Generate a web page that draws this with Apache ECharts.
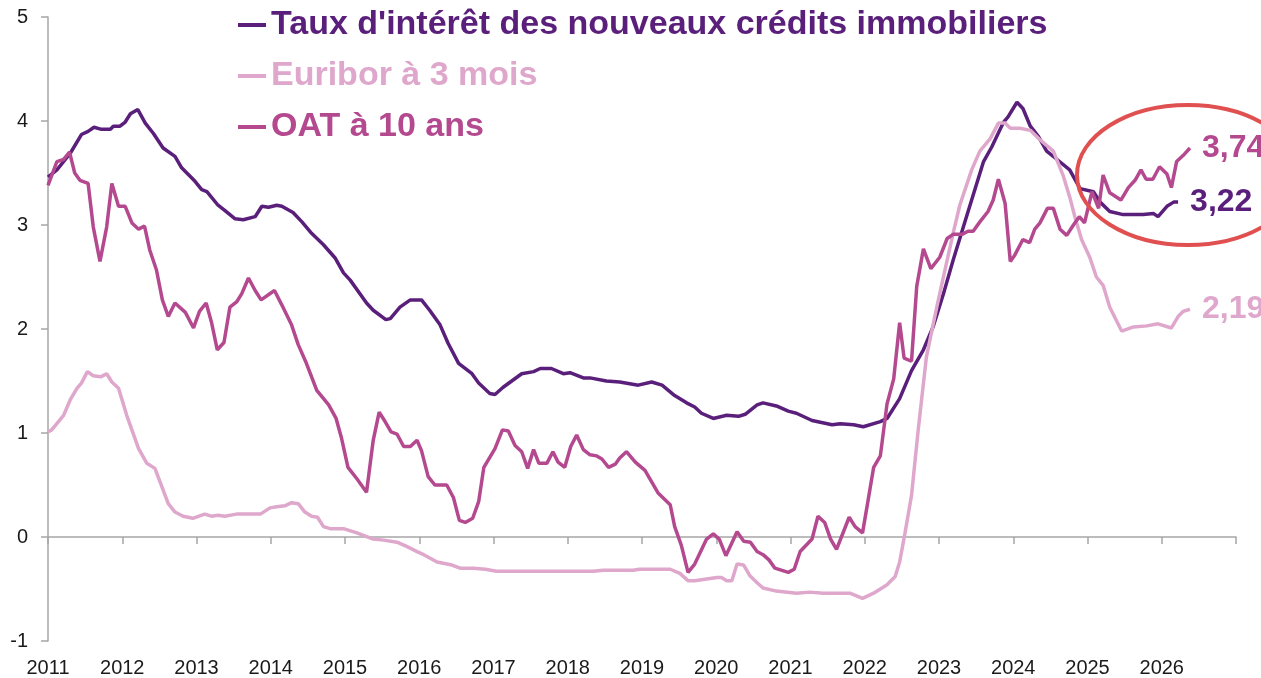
<!DOCTYPE html>
<html>
<head>
<meta charset="utf-8">
<title>Taux immobiliers, Euribor et OAT</title>
<script src="https://cdn.jsdelivr.net/npm/echarts/dist/echarts.min.js"></script>
<style>
  html, body { margin: 0; padding: 0; background: #fff; }
  #chart { width: 1261px; height: 678px; }
</style>
</head>
<body>
<div id="chart"></div>
<script>
// noms des séries
const seriesNames = ["Taux d'intérêt des nouveaux crédits immobiliers", 'Euribor à 3 mois', 'OAT à 10 ans'];
const seriesColors = ['#5a1f7b', '#dea7cb', '#b4498f'];

// années de l'axe
const yearTicks = [2011, 2012, 2013, 2014, 2015, 2016, 2017, 2018, 2019, 2020, 2021, 2022, 2023, 2024, 2025, 2026];

// [année, taux en %]
const tauxData = [
  [2011.00, 3.46], [2011.12, 3.53], [2011.30, 3.69], [2011.45, 3.87], [2011.54, 3.90], [2011.62, 3.94],
  [2011.72, 3.92], [2011.84, 3.92], [2011.88, 3.95], [2011.97, 3.95], [2012.04, 3.99], [2012.11, 4.07],
  [2012.21, 4.11], [2012.31, 3.98], [2012.42, 3.88], [2012.55, 3.74], [2012.71, 3.66], [2012.80, 3.55],
  [2012.98, 3.42], [2013.07, 3.34], [2013.14, 3.32], [2013.29, 3.19], [2013.38, 3.14], [2013.52, 3.06],
  [2013.63, 3.05], [2013.79, 3.08], [2013.88, 3.18], [2013.97, 3.17], [2014.08, 3.19], [2014.15, 3.18],
  [2014.30, 3.12], [2014.42, 3.03], [2014.55, 2.92], [2014.71, 2.81], [2014.87, 2.68], [2014.98, 2.54],
  [2015.07, 2.47], [2015.29, 2.25], [2015.38, 2.18], [2015.55, 2.09], [2015.61, 2.10], [2015.74, 2.21],
  [2015.88, 2.28], [2016.03, 2.28], [2016.14, 2.18], [2016.28, 2.04], [2016.39, 1.86], [2016.53, 1.67],
  [2016.71, 1.57], [2016.80, 1.48], [2016.95, 1.38], [2017.02, 1.37], [2017.13, 1.44], [2017.38, 1.57],
  [2017.54, 1.59], [2017.63, 1.62], [2017.78, 1.62], [2017.94, 1.57], [2018.03, 1.58], [2018.21, 1.53],
  [2018.30, 1.53], [2018.52, 1.50], [2018.70, 1.49], [2018.95, 1.46], [2019.13, 1.49], [2019.27, 1.46],
  [2019.44, 1.36], [2019.60, 1.29], [2019.71, 1.25], [2019.80, 1.19], [2019.96, 1.14], [2020.14, 1.17],
  [2020.30, 1.16], [2020.39, 1.18], [2020.55, 1.27], [2020.63, 1.29], [2020.81, 1.26], [2020.97, 1.21],
  [2021.08, 1.19], [2021.29, 1.12], [2021.56, 1.08], [2021.67, 1.09], [2021.85, 1.08], [2021.98, 1.06],
  [2022.21, 1.11], [2022.30, 1.14], [2022.47, 1.33], [2022.63, 1.60], [2022.79, 1.80], [2022.92, 2.02],
  [2023.06, 2.34], [2023.19, 2.66], [2023.37, 3.08], [2023.60, 3.61], [2023.71, 3.75], [2023.87, 3.99],
  [2023.93, 4.04], [2024.05, 4.18], [2024.13, 4.12], [2024.23, 3.95], [2024.34, 3.85], [2024.45, 3.71],
  [2024.59, 3.63], [2024.76, 3.53], [2024.90, 3.35], [2025.08, 3.32], [2025.17, 3.22], [2025.30, 3.13],
  [2025.48, 3.10], [2025.62, 3.10], [2025.75, 3.10], [2025.89, 3.11], [2025.95, 3.08], [2026.07, 3.18],
  [2026.16, 3.22], [2026.22, 3.22]
];

const euriborData = [
  [2011.00, 1.01], [2011.05, 1.03], [2011.21, 1.17], [2011.30, 1.32], [2011.39, 1.43], [2011.45, 1.48],
  [2011.53, 1.59], [2011.61, 1.55], [2011.71, 1.54], [2011.79, 1.57], [2011.86, 1.49], [2011.95, 1.43],
  [2012.06, 1.17], [2012.22, 0.85], [2012.33, 0.71], [2012.44, 0.66], [2012.62, 0.32], [2012.71, 0.24],
  [2012.82, 0.20], [2012.95, 0.18], [2013.11, 0.22], [2013.20, 0.20], [2013.29, 0.21], [2013.38, 0.20],
  [2013.54, 0.22], [2013.86, 0.22], [2013.99, 0.28], [2014.08, 0.29], [2014.19, 0.30], [2014.28, 0.33],
  [2014.37, 0.32], [2014.46, 0.24], [2014.55, 0.20], [2014.63, 0.19], [2014.71, 0.10], [2014.80, 0.08],
  [2014.98, 0.08], [2015.16, 0.04], [2015.38, -0.02], [2015.52, -0.03], [2015.70, -0.05], [2015.83, -0.09],
  [2015.97, -0.14], [2016.06, -0.17], [2016.24, -0.24], [2016.44, -0.27], [2016.55, -0.30], [2016.73, -0.30],
  [2016.89, -0.31], [2017.04, -0.33], [2018.34, -0.33], [2018.48, -0.32], [2018.88, -0.32], [2018.97, -0.31],
  [2019.38, -0.31], [2019.51, -0.35], [2019.62, -0.42], [2019.71, -0.42], [2020.01, -0.39], [2020.07, -0.39],
  [2020.14, -0.42], [2020.21, -0.42], [2020.28, -0.26], [2020.37, -0.27], [2020.45, -0.37], [2020.55, -0.44],
  [2020.63, -0.49], [2020.81, -0.52], [2021.08, -0.54], [2021.26, -0.53], [2021.44, -0.54], [2021.80, -0.54],
  [2021.97, -0.59], [2022.12, -0.54], [2022.30, -0.46], [2022.41, -0.38], [2022.47, -0.24], [2022.54, 0.03],
  [2022.63, 0.40], [2022.72, 1.03], [2022.83, 1.73], [2022.97, 2.21], [2023.10, 2.63], [2023.19, 2.92],
  [2023.28, 3.19], [2023.44, 3.53], [2023.55, 3.71], [2023.69, 3.83], [2023.80, 3.98], [2023.89, 3.98],
  [2023.96, 3.93], [2024.09, 3.93], [2024.23, 3.91], [2024.36, 3.82], [2024.54, 3.71], [2024.67, 3.48],
  [2024.76, 3.27], [2024.83, 3.08], [2024.92, 2.86], [2025.03, 2.69], [2025.12, 2.50], [2025.21, 2.42],
  [2025.30, 2.21], [2025.46, 1.98], [2025.62, 2.02], [2025.80, 2.03], [2025.95, 2.05], [2026.13, 2.01],
  [2026.22, 2.12], [2026.29, 2.17], [2026.38, 2.19]
];

const oatData = [
  [2011.00, 3.38], [2011.12, 3.61], [2011.21, 3.63], [2011.29, 3.70], [2011.36, 3.50], [2011.43, 3.43],
  [2011.54, 3.40], [2011.61, 2.98], [2011.70, 2.65], [2011.79, 2.98], [2011.86, 3.40], [2011.95, 3.18],
  [2012.04, 3.18], [2012.13, 3.02], [2012.22, 2.96], [2012.30, 2.99], [2012.37, 2.76], [2012.46, 2.57],
  [2012.54, 2.28], [2012.62, 2.12], [2012.71, 2.25], [2012.85, 2.16], [2012.96, 2.01], [2013.04, 2.17],
  [2013.13, 2.25], [2013.20, 2.07], [2013.28, 1.80], [2013.37, 1.87], [2013.45, 2.21], [2013.54, 2.26],
  [2013.61, 2.34], [2013.70, 2.49], [2013.79, 2.37], [2013.87, 2.28], [2014.05, 2.37], [2014.15, 2.23],
  [2014.28, 2.04], [2014.37, 1.85], [2014.48, 1.67], [2014.62, 1.41], [2014.78, 1.27], [2014.88, 1.14],
  [2014.95, 0.96], [2015.04, 0.67], [2015.16, 0.56], [2015.29, 0.43], [2015.38, 0.93], [2015.46, 1.20],
  [2015.54, 1.11], [2015.62, 1.01], [2015.70, 0.99], [2015.79, 0.87], [2015.88, 0.87], [2015.97, 0.93],
  [2016.03, 0.83], [2016.12, 0.58], [2016.21, 0.50], [2016.37, 0.50], [2016.46, 0.38], [2016.54, 0.16],
  [2016.62, 0.14], [2016.72, 0.18], [2016.80, 0.34], [2016.87, 0.67], [2017.02, 0.85], [2017.12, 1.03],
  [2017.20, 1.02], [2017.29, 0.88], [2017.38, 0.82], [2017.46, 0.66], [2017.54, 0.84], [2017.61, 0.71],
  [2017.72, 0.71], [2017.80, 0.82], [2017.87, 0.72], [2017.96, 0.67], [2018.04, 0.87], [2018.12, 0.98],
  [2018.21, 0.84], [2018.30, 0.79], [2018.39, 0.78], [2018.46, 0.75], [2018.55, 0.67], [2018.64, 0.70],
  [2018.70, 0.76], [2018.79, 0.82], [2018.91, 0.72], [2019.04, 0.64], [2019.22, 0.42], [2019.38, 0.31],
  [2019.44, 0.10], [2019.53, -0.08], [2019.62, -0.34], [2019.71, -0.26], [2019.87, -0.02], [2019.96, 0.03],
  [2020.04, -0.02], [2020.13, -0.18], [2020.28, 0.05], [2020.37, -0.04], [2020.46, -0.05], [2020.55, -0.14],
  [2020.63, -0.17], [2020.71, -0.22], [2020.79, -0.30], [2020.97, -0.34], [2021.05, -0.31], [2021.13, -0.14],
  [2021.29, -0.02], [2021.37, 0.20], [2021.46, 0.14], [2021.54, -0.02], [2021.62, -0.12], [2021.79, 0.19],
  [2021.87, 0.10], [2021.97, 0.04], [2022.03, 0.29], [2022.12, 0.67], [2022.21, 0.78], [2022.30, 1.28],
  [2022.39, 1.52], [2022.47, 2.06], [2022.53, 1.72], [2022.63, 1.69], [2022.70, 2.41], [2022.79, 2.77],
  [2022.89, 2.58], [2023.01, 2.69], [2023.11, 2.87], [2023.19, 2.91], [2023.31, 2.91], [2023.39, 2.94],
  [2023.46, 2.94], [2023.55, 3.03], [2023.66, 3.13], [2023.73, 3.24], [2023.80, 3.44], [2023.89, 3.21],
  [2023.96, 2.65], [2024.02, 2.71], [2024.13, 2.86], [2024.22, 2.83], [2024.29, 2.96], [2024.36, 3.02],
  [2024.46, 3.16], [2024.54, 3.16], [2024.63, 2.96], [2024.72, 2.90], [2024.81, 3.00], [2024.89, 3.08],
  [2024.96, 3.02], [2025.06, 3.32], [2025.15, 3.16], [2025.21, 3.48], [2025.30, 3.31], [2025.45, 3.24],
  [2025.55, 3.36], [2025.64, 3.43], [2025.72, 3.53], [2025.79, 3.44], [2025.88, 3.44], [2025.97, 3.56],
  [2026.07, 3.49], [2026.13, 3.36], [2026.20, 3.61], [2026.29, 3.67], [2026.38, 3.74]
];

const allData = [tauxData, euriborData, oatData];

const chart = echarts.init(document.getElementById('chart'));
const font = '"Liberation Sans", Arial, sans-serif';
const axisGrey = '#a6a6a6';

const options = {
  animation: false,
  textStyle: { fontFamily: font },
  grid: { left: 48, right: 25, top: 17, bottom: 37, containLabel: false },
  legend: {
    orient: 'vertical',
    left: 238,
    top: 5,
    padding: 0,
    itemGap: 11,
    itemWidth: 28,
    itemHeight: 4,
    icon: 'rect',
    data: seriesNames.map((n, i) => ({
      name: n,
      textStyle: { color: seriesColors[i] }
    })),
    textStyle: { fontSize: 34, fontWeight: 'bold', fontFamily: font, lineHeight: 40 }
  },
  xAxis: [
    {
      // axe au niveau de zéro, avec les graduations
      type: 'value',
      min: 2011,
      max: 2027,
      interval: 1,
      position: 'bottom',
      axisLine: { show: true, onZero: true, lineStyle: { color: axisGrey, width: 1.5 } },
      axisTick: { show: true, length: 7, lineStyle: { color: axisGrey, width: 1.5 } },
      axisLabel: { show: false },
      splitLine: { show: false }
    },
    {
      // libellés des années en bas
      type: 'value',
      min: 2011,
      max: 2027,
      interval: 1,
      position: 'bottom',
      axisLine: { show: false, onZero: false },
      axisTick: { show: false },
      axisLabel: {
        show: true,
        margin: 17,
        fontSize: 20,
        color: '#1a1a1a',
        fontFamily: font,
        formatter: v => (yearTicks.indexOf(v) >= 0 ? String(v) : '')
      },
      splitLine: { show: false }
    }
  ],
  yAxis: {
    type: 'value',
    min: -1,
    max: 5,
    interval: 1,
    axisLine: { show: true, lineStyle: { color: axisGrey, width: 1.5 } },
    axisTick: { show: true, length: 7, lineStyle: { color: axisGrey, width: 1.5 } },
    axisLabel: { fontSize: 20, color: '#1a1a1a', margin: 20, fontFamily: font },
    splitLine: { show: false }
  },
  graphic: [
    {
      type: 'ellipse',
      shape: { cx: 1188, cy: 175, rx: 111, ry: 70 },
      style: { fill: 'none', stroke: '#e05050', lineWidth: 4 },
      z: 100
    }
  ],
  series: seriesNames.map((n, i) => ({
    name: n,
    type: 'line',
    xAxisIndex: 0,
    data: allData[i],
    color: seriesColors[i],
    showSymbol: false,
    symbol: 'none',
    lineStyle: { width: 3.5, color: seriesColors[i] },
    endLabel: {
      show: true,
      distance: 12,
      fontSize: 32,
      fontWeight: 'bold',
      fontFamily: font,
      color: seriesColors[i],
      formatter: p => p.value[1].toFixed(2).replace('.', ',')
    }
  }))
};

chart.setOption(options);
</script>
</body>
</html>
